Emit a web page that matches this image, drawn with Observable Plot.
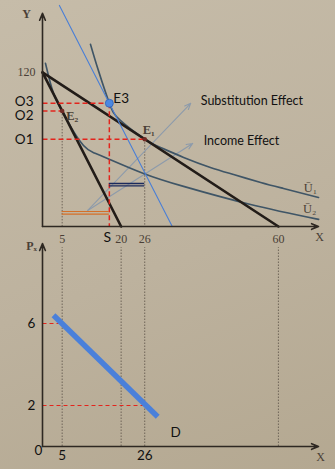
<!DOCTYPE html>
<html><head><meta charset="utf-8">
<script src="https://cdn.jsdelivr.net/npm/d3@7"></script>
<script src="https://cdn.jsdelivr.net/npm/@observablehq/plot@0.6"></script>
<style>
html,body{margin:0;padding:0;}
body{width:335px;height:469px;overflow:hidden;background:linear-gradient(160deg,#c6bca9 0%,#bdb29e 55%,#b4a891 100%);}
#chart svg{display:block;}
</style></head><body><div id="chart"></div>
<script>
// ---- data ----
// indifference curves (quantity X, quantity Y)
const u1X = [12.2, 14.2, 17, 19.8, 26, 30.0, 35.9, 42.7, 48.6, 55.5, 61.3, 70.2];
const u1Y = [141.9, 121.6, 96, 82.6, 68, 61.5, 53.8, 46.0, 40.5, 34.3, 29.6, 22.6];
const u2X = [0.76, 2.8, 5, 7.12, 10.43, 13, 16.54, 25.7, 35.88, 52.93, 70.23];
const u2Y = [127.0, 103.7, 90, 78, 63.1, 57.5, 53.0, 41.3, 31.2, 17.1, 5.5];
const uLabels = ["Ū₁", "Ū₂"];
// budget lines
const steepX = [0, 20], steepY = [120, 0];
const flatX = [0, 60], flatY = [120, 0];
const compX = [4.3, 33], compY = [172.2, 0];
// equilibria
const eqNames = ["E₁", "E₂", "E3"];
const eqX = [26, 5, 17];
const eqY = [68, 90, 96];
const oLabels = ["O1", "O2", "O3"];
// effects (quantity ranges and bar heights)
const subFrom = 5, subTo = 17, incFrom = 17, incTo = 26;
const subLevels = [11.7, 9.7], incLevels = [33.5, 31.6];
const effectNames = ["Substitution Effect", "Income Effect"];
const effStartX = [11.5, 11.5], effStartY = [12.5, 12.5];
const effEndX = [37.7, 38.2], effEndY = [95.9, 64.7];
// tick labels
const qTicks = [5, 20, 26, 60];
const yTick = 120;
const sLabel = "S";
// demand panel
const demandX = [2.8, 29.3], demandY = [6.4, 1.45];
const priceTicks = [6, 2];
const priceQty = [5, 26];
const guideQ = [5, 20, 26, 60];

// ---- styles ----
const serif = "Liberation Serif, DejaVu Serif, serif";
const sans = "Lato, Open Sans, sans-serif";
const ink = "#4a3f36";
const curveCol = "#3f5566";
const lineCol = "#221c18";
const red = "#e3241c";
const dotted = "#6f6558";

const range = (n) => d3.range(n);
const pts = (xs, ys) => xs.map((x, i) => ({x, y: ys[i]}));

// per-label pixel nudges (style only)
const oNudge = [[-9, 0], [-9, 5], [-9, -2]];
const eNudge = [[-2, -9], [4, 5]];
const effNudge = [10, 11];
const uNudge = [[-8, -9], [-9, -10]];

const topPlot = Plot.plot({
  width: 335, height: 240,
  marginLeft: 42, marginRight: 17, marginTop: 0, marginBottom: 14,
  x: {domain: [0, 70.2], axis: null},
  y: {domain: [0, 176], axis: null},
  style: {background: "transparent", overflow: "visible"},
  marks: [
    // dotted drop lines from E1, E2
    Plot.link([0, 1], {x1: i => eqX[i], x2: i => eqX[i], y1: i => eqY[i], y2: 0,
      stroke: dotted, strokeWidth: 1, strokeDasharray: "1.5,1.5"}),
    // effect arrows
    Plot.arrow(range(2), {x1: i => effStartX[i], y1: i => effStartY[i], x2: i => effEndX[i], y2: i => effEndY[i],
      stroke: "#8d9bab", strokeWidth: 1.1, headLength: 9, headAngle: 45}),
    // indifference curves
    Plot.line(pts(u1X, u1Y), {x: "x", y: "y", curve: "natural", stroke: curveCol, strokeWidth: 1.7}),
    Plot.line(pts(u2X, u2Y), {x: "x", y: "y", curve: "natural", stroke: curveCol, strokeWidth: 1.7}),
    // budget lines
    Plot.line(pts(steepX, steepY), {x: "x", y: "y", stroke: lineCol, strokeWidth: 2.6}),
    Plot.line(pts(flatX, flatY), {x: "x", y: "y", stroke: lineCol, strokeWidth: 2.6}),
    // compensated budget line
    Plot.line(pts(compX, compY), {x: "x", y: "y", stroke: "#4a7fd6", strokeWidth: 1.1}),
    // red dashed guides
    Plot.link(range(3), {x1: 0, x2: i => eqX[i], y1: i => eqY[i], y2: i => eqY[i],
      stroke: red, strokeWidth: 1.5, strokeDasharray: "5,3"}),
    Plot.link([2], {x1: i => eqX[i], x2: i => eqX[i], y1: i => eqY[i], y2: 0,
      stroke: red, strokeWidth: 1.5, strokeDasharray: "5,3"}),
    // effect double bars
    Plot.ruleY(subLevels, {x1: subFrom, x2: subTo, stroke: "#d4702a", strokeWidth: 1.2}),
    Plot.ruleY(incLevels, {x1: incFrom, x2: incTo, stroke: "#1b2a5c", strokeWidth: 1.4}),
    // axes
    Plot.arrow([0], {x1: 0, y1: 0, x2: 70.2, y2: 0, stroke: "#2e2822", strokeWidth: 1.6, headLength: 7, headAngle: 45}),
    Plot.arrow([0], {x1: 0, y1: 0, x2: 0, y2: 166, stroke: "#2e2822", strokeWidth: 1.6, headLength: 7, headAngle: 45}),
    // equilibrium dots
    Plot.dot([0, 1], {x: i => eqX[i], y: i => eqY[i], r: 2.3, fill: "#6e2a24"}),
    Plot.dot([2], {x: i => eqX[i], y: i => eqY[i], r: 4, fill: "#4c88e2", stroke: "#2f62b8", strokeWidth: 0.8}),
    // labels
    Plot.text(qTicks, {x: d => d, y: 0, dy: 13, text: d => String(d), fontFamily: serif, fontSize: 12, fill: ink}),
    Plot.text([sLabel], {x: eqX[2], y: 0, dy: 11, dx: -2, text: d => d, fontFamily: sans, fontSize: 14, fill: "#111"}),
    Plot.text([yTick], {x: 0, y: d => d, dx: -7, textAnchor: "end", text: d => String(d), fontFamily: serif, fontSize: 12, fill: ink}),
    ...range(3).map(i => Plot.text([i], {x: 0, y: eqY[i], dx: oNudge[i][0], dy: oNudge[i][1], textAnchor: "end",
      text: () => oLabels[i], fontFamily: sans, fontSize: 13.5, fill: "#111"})),
    ...range(2).map(i => Plot.text([i], {x: eqX[i], y: eqY[i], dx: eNudge[i][0], dy: eNudge[i][1], textAnchor: "start",
      text: () => eqNames[i], fontFamily: serif, fontSize: 12.5, fontWeight: "bold", fill: ink})),
    Plot.text([2], {x: eqX[2], y: eqY[2], dx: 4, dy: -5, textAnchor: "start",
      text: () => eqNames[2], fontFamily: sans, fontSize: 13.5, fill: "#111"}),
    ...range(2).map(i => Plot.text([i], {x: effEndX[i], y: effEndY[i], dx: effNudge[i], dy: -2, textAnchor: "start",
      text: () => effectNames[i], fontFamily: sans, fontSize: 12.5, fill: "#111"})),
    ...range(2).map(i => Plot.text([i], {x: [u1X, u2X][i].at(-1), y: [u1Y, u2Y][i].at(-1), dx: uNudge[i][0], dy: uNudge[i][1],
      text: () => uLabels[i], fontFamily: serif, fontSize: 12.5, fill: ink})),
    Plot.text(["X"], {x: 70.2, y: 0, dx: 1, dy: 11, text: d => d, fontFamily: serif, fontSize: 12, fill: ink}),
    Plot.text(["Y"], {x: 0, y: 166, dx: -16, dy: 1, text: d => d, fontFamily: serif, fontSize: 12, fontWeight: "bold", fill: ink})
  ]
});

const bottomPlot = Plot.plot({
  width: 335, height: 229,
  marginLeft: 42, marginRight: 17, marginTop: 0, marginBottom: 23,
  x: {domain: [0, 70.2], axis: null},
  y: {domain: [0, 10.05], axis: null},
  style: {background: "transparent", overflow: "visible"},
  marks: [
    Plot.ruleX(guideQ, {y1: 0, y2: 9.7, stroke: dotted, strokeWidth: 1, strokeDasharray: "1.5,1.5"}),
    Plot.link(range(2), {x1: 0, x2: i => priceQty[i], y1: i => priceTicks[i], y2: i => priceTicks[i],
      stroke: red, strokeWidth: 1.2, strokeDasharray: "4,3"}),
    Plot.line(pts(demandX, demandY), {x: "x", y: "y", stroke: "#4a80da", strokeWidth: 5.5, strokeLinecap: "butt"}),
    Plot.arrow([0], {x1: 0, y1: 0, x2: 70.2, y2: 0, stroke: "#2e2822", strokeWidth: 1.6, headLength: 7, headAngle: 45}),
    Plot.arrow([0], {x1: 0, y1: 0, x2: 0, y2: 9.9, stroke: "#2e2822", strokeWidth: 1.6, headLength: 7, headAngle: 45}),
    Plot.text(priceTicks, {x: 0, y: d => d, dx: -11, text: d => String(d), fontFamily: sans, fontSize: 13.5, fill: "#111"}),
    Plot.text(priceQty, {x: d => d, y: 0, dy: 9, text: d => String(d), fontFamily: sans, fontSize: 13.5, fill: "#111"}),
    Plot.text(["0"], {x: 0, y: 0, dx: -4, dy: 4, text: d => d, fontFamily: sans, fontSize: 13.5, fill: "#111"}),
    Plot.text(["D"], {x: demandX[1], y: demandY[1], dx: 18, dy: 16, text: d => d, fontFamily: sans, fontSize: 13.5, fill: "#111"}),
    Plot.text(["X"], {x: 70.2, y: 0, dx: 2, dy: 11, text: d => d, fontFamily: serif, fontSize: 12, fill: ink}),
    Plot.text(["Pₓ"], {x: 0, y: 9.9, dx: -11, dy: 3, text: d => d, fontFamily: serif, fontSize: 12, fontWeight: "bold", fill: ink})
  ]
});

const chart = document.getElementById("chart");
chart.append(topPlot, bottomPlot);
</script>
</body></html>
